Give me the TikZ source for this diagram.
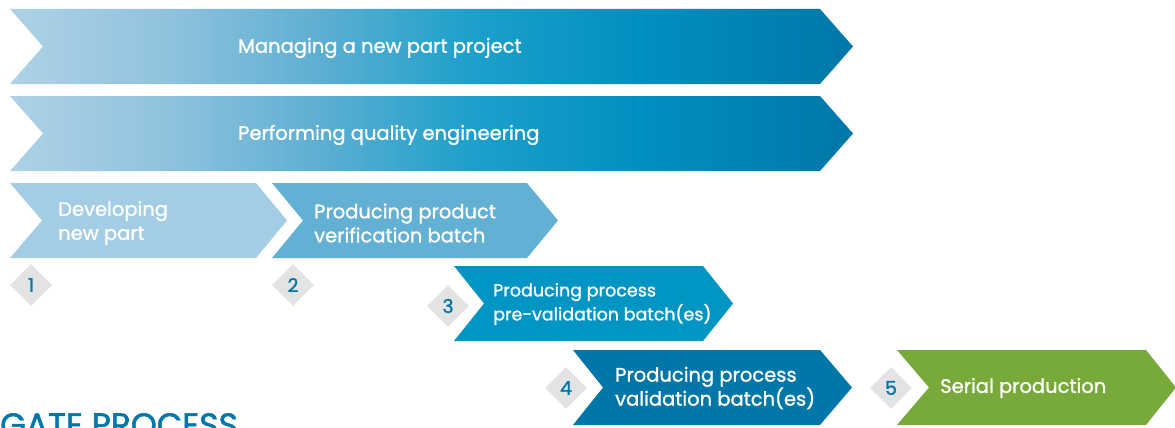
\documentclass[tikz,border=0pt]{standalone}
\usepackage{fontspec}
\setmainfont{Poppins}
\newfontfamily\popm{Poppins}[FakeBold=1.2]
\newfontfamily\popt{Poppins}[FakeBold=1.6]
\usetikzlibrary{shapes.geometric}
\definecolor{cA}{HTML}{AED2E6}
\definecolor{cB}{HTML}{8FC2DE}
\definecolor{cC}{HTML}{5DAFD2}
\definecolor{cD}{HTML}{1DA0CB}
\definecolor{cE}{HTML}{0090C0}
\definecolor{cF}{HTML}{0077A8}
\definecolor{boxone}{HTML}{A3CDE4}
\definecolor{boxtwo}{HTML}{62B0D3}
\definecolor{boxthree}{HTML}{0095C3}
\definecolor{boxfour}{HTML}{0077A8}
\definecolor{boxfive}{HTML}{78A93B}
\definecolor{gem}{HTML}{E3E3E3}
\definecolor{numblue}{HTML}{0077A8}
\pgfdeclarehorizontalshading{bandshade}{100bp}{color(0bp)=(cA); color(25bp)=(cA); color(34.5bp)=(cB); color(43.4bp)=(cC); color(52.3bp)=(cD); color(62.4bp)=(cE); color(75bp)=(cF); color(100bp)=(cF)}
\newcommand{\chevpath}[6]{(#1,#5) -- (#3,#5) -- (#4,{(#5+#6)/2}) -- (#3,#6) -- (#1,#6) -- (#2,{(#5+#6)/2}) -- cycle}
\tikzset{
  lbl/.style={text=white, font=\popm\fontsize{19.5}{24}\selectfont, align=left, anchor=west, inner sep=0pt},
  lblsmall/.style={lbl, font=\popm\fontsize{17.5}{24}\selectfont},
  gemnode/.style={diamond, fill=gem, minimum size=42pt, inner sep=0pt, text=numblue, font=\popm\fontsize{19}{20}\selectfont}
}
\begin{document}
\begin{tikzpicture}[x=1pt,y=-1pt]
\useasboundingbox (0,0) rectangle (1175,428);
\clip (0,0) rectangle (1175,428);
% bands
\shade[shading=bandshade] \chevpath{10}{43}{820}{853}{9}{84};
\shade[shading=bandshade] \chevpath{10}{43}{820}{853}{96}{171};
% step boxes
\fill[boxone] \chevpath{10}{42}{256}{287}{183}{258};
\fill[boxtwo] \chevpath{272}{303}{527}{558}{183}{258};
\fill[boxthree] \chevpath{454}{484}{703}{733}{266}{341};
\fill[boxfour] \chevpath{573}{603}{820}{852}{350}{425};
\fill[boxfive] \chevpath{897}{929}{1146}{1176}{350}{425};
% labels
\node[lbl] (tmanage) at (238,48) {Managing a new part project};
\node[lbl] (tquality) at (238,135) {Performing quality engineering};
\node[lbl] (tdev) at (58,223) {Developing\\new part};
\node[lbl] (tver) at (314,223) {Producing product\\verification batch};
\node[lblsmall] (tpre) at (493,304) {Producing process\\pre-validation batch(es)};
\node[lbl] (tval) at (615,388) {Producing process\\validation batch(es)};
\node[lbl] (tser) at (940,388) {Serial production};
% gates
\node[gemnode] (g1) at (31,285) {1};
\node[gemnode] (g2) at (293,285) {2};
\node[gemnode] (g3) at (448,306) {3};
\node[gemnode] (g4) at (566,388) {4};
\node[gemnode] (g5) at (891,388) {5};
% title
\node[anchor=north west, inner sep=0pt, text=numblue, font=\popt\fontsize{33}{36}\selectfont] (title) at (0,413) {GATE PROCESS};
\end{tikzpicture}
\end{document}
